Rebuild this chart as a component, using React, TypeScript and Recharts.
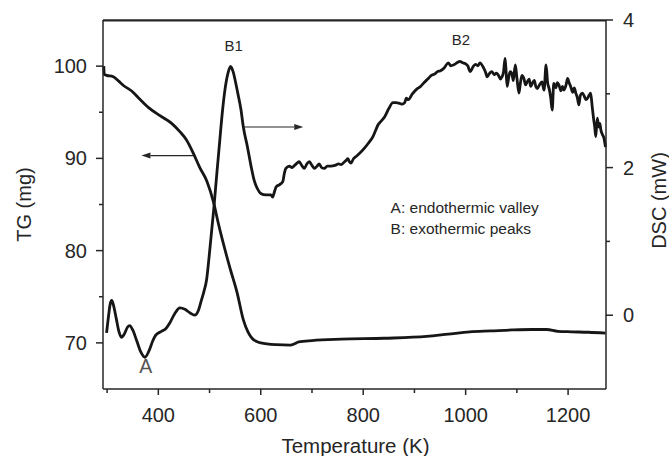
import React from 'react';
import { ComposedChart, Line, XAxis, YAxis, ReferenceLine, ReferenceDot, ReferenceArea } from 'recharts';

const tgTemps = [293.5, 294.5, 299, 312, 322, 332, 348, 364, 381, 404, 426, 442, 455, 468, 481, 495, 508, 517, 525, 533, 541, 554, 566, 575, 583, 592, 600, 630, 658, 666, 674, 700, 757, 841, 924, 966, 1008, 1050, 1091, 1130, 1158, 1180, 1207, 1240, 1273];
const tgValues = [100.0, 99.1, 99.0, 98.85, 98.4, 97.9, 97.3, 96.4, 95.5, 94.6, 93.8, 92.9, 92.0, 90.6, 89.0, 87.5, 85.2, 83.0, 81.2, 79.5, 77.9, 75.4, 72.5, 71.2, 70.5, 70.15, 70.0, 69.8, 69.75, 69.9, 70.1, 70.25, 70.4, 70.5, 70.7, 70.95, 71.2, 71.3, 71.4, 71.45, 71.45, 71.25, 71.2, 71.15, 71.05];

const dscTemps = [299, 303, 306, 309, 313, 318, 323, 328, 334, 340, 344, 350, 358, 366, 374, 382, 389, 395, 406, 415, 422, 432, 442, 452, 462, 471, 478, 484, 489, 494, 500, 508, 514, 520, 525, 530, 536, 541, 546, 551, 556, 561, 566, 574, 581, 587, 593, 600, 610, 620, 623, 627, 630, 637, 643, 646, 649, 656, 661, 666, 671, 675, 680, 685, 690, 695, 700, 705, 710, 714, 719, 724, 730, 737, 745, 752, 757, 762, 767, 770, 773, 776, 781, 786, 794, 802, 810, 819, 824, 829, 835, 842, 850, 858, 864, 871, 876, 881, 884, 888, 896, 904, 912, 920, 926, 933, 940, 945, 950, 958, 966, 971, 976, 983, 989, 994, 999, 1004, 1009, 1014, 1019, 1024, 1028, 1035, 1039, 1042, 1046, 1051, 1056, 1060, 1064, 1068, 1071, 1074, 1077, 1079, 1081, 1084, 1087, 1090, 1093, 1097, 1100, 1104, 1107, 1110, 1114, 1117, 1120, 1124, 1127, 1130, 1134, 1137, 1140, 1144, 1149, 1153, 1157, 1160, 1163, 1166, 1169, 1172, 1176, 1179, 1182, 1186, 1189, 1192, 1196, 1199, 1202, 1205, 1209, 1212, 1215, 1218, 1221, 1224, 1228, 1232, 1235, 1238, 1241, 1244, 1247, 1250, 1252, 1254, 1257, 1260, 1262, 1264, 1267, 1270, 1273];
const dscValues = [-0.24, 0.0, 0.15, 0.2, 0.12, -0.05, -0.22, -0.3, -0.25, -0.16, -0.14, -0.2, -0.35, -0.5, -0.57, -0.48, -0.35, -0.27, -0.22, -0.18, -0.11, 0.02, 0.1, 0.08, 0.03, 0.0, 0.06, 0.2, 0.32, 0.47, 0.85, 1.42, 1.9, 2.37, 2.75, 3.05, 3.28, 3.37, 3.3, 3.15, 2.98, 2.8, 2.55, 2.28, 2.02, 1.83, 1.72, 1.65, 1.63, 1.63, 1.6, 1.68, 1.74, 1.77, 1.81, 1.92, 1.99, 2.02, 2.0, 2.03, 2.06, 2.08, 2.03, 1.99, 2.05, 2.08, 2.03, 1.99, 2.02, 2.05, 2.0, 1.99, 2.02, 2.02, 2.03, 2.05, 2.04, 2.07, 2.1, 2.12, 2.08, 2.06, 2.12, 2.15, 2.2, 2.26, 2.33, 2.42, 2.5, 2.58, 2.63, 2.69, 2.8, 2.88, 2.88, 2.87, 2.86, 2.88, 2.94, 2.92, 3.0, 3.06, 3.1, 3.16, 3.2, 3.25, 3.27, 3.3, 3.31, 3.35, 3.42, 3.38, 3.39, 3.42, 3.44, 3.42, 3.41, 3.38, 3.3, 3.36, 3.4, 3.38, 3.42, 3.35, 3.29, 3.23, 3.27, 3.3, 3.26, 3.28, 3.25, 3.2, 3.23, 3.3, 3.48, 3.3, 3.1, 3.22, 3.3, 3.28, 3.18, 3.39, 3.22, 3.01, 3.15, 3.25, 3.2, 3.12, 3.16, 3.2, 3.1, 3.14, 3.18, 3.1, 3.07, 3.12, 3.16, 3.05, 3.39, 3.15, 3.07, 2.95, 2.78, 3.14, 3.08, 3.15, 3.12, 3.04, 3.1, 3.05, 3.12, 3.21, 3.15, 3.1, 3.02, 3.08, 3.01, 2.95, 2.85, 2.98, 3.01, 2.96, 2.92, 2.94, 2.98, 3.01, 2.83, 2.65, 2.55, 2.42, 2.67, 2.55, 2.6, 2.51, 2.45, 2.4, 2.28];

const xDomain = [292, 1274];
const tgDomain = [65, 105];
const dscDomain = [-1, 4];
const xTicks = [300, 400, 500, 600, 700, 800, 900, 1000, 1100, 1200];
const tgTicks = [70, 75, 80, 85, 90, 95, 100];
const dscTicks = [0, 1, 2, 3, 4];

const tgData = tgTemps.map((t, i) => ({ t, tg: tgValues[i] }));
const dscData = dscTemps.map((t, i) => ({ t, dsc: dscValues[i] }));

const FONT = '"Liberation Sans", Arial, sans-serif';
const AX = '#262626';
const TXT = '#262626';
const LINE = '#161616';

const XTick = (p: any) => {
  const { x, y, payload } = p;
  const major = payload.value % 200 === 0;
  return (
    <g>
      <line x1={x} y1={y} x2={x} y2={y + (major ? 6 : 4)} stroke={AX} strokeWidth={1.5} />
      {major && (
        <text x={x} y={y + 33} textAnchor="middle" fontSize={20} fontFamily={FONT} fill={TXT}>
          {payload.value}
        </text>
      )}
    </g>
  );
};

const LeftTick = (p: any) => {
  const { x, y, payload } = p;
  const major = payload.value % 10 === 0;
  return (
    <g>
      <line x1={x} y1={y} x2={x - (major ? 7 : 4)} y2={y} stroke={AX} strokeWidth={1.5} />
      {major && (
        <text x={x - 16} y={y + 7} textAnchor="end" fontSize={20} fontFamily={FONT} fill={TXT}>
          {payload.value}
        </text>
      )}
    </g>
  );
};

const RightTick = (p: any) => {
  const { x, y, payload } = p;
  const major = payload.value % 2 === 0;
  return (
    <g>
      <line x1={x} y1={y} x2={x + (major ? 7 : 4)} y2={y} stroke={AX} strokeWidth={1.5} />
      {major && (
        <text x={x + 17} y={y + 7} textAnchor="start" fontSize={20} fontFamily={FONT} fill={TXT}>
          {payload.value}
        </text>
      )}
    </g>
  );
};

const Arrow = (p: any) => {
  const { x1, y1, x2, y2 } = p;
  const dir = Math.sign(x2 - x1) || 1;
  const hl = 9;
  const hw = 3;
  return (
    <g>
      <line x1={x1} y1={y1} x2={x2 - dir * hl} y2={y2} stroke={AX} strokeWidth={1.2} />
      <polygon points={`${x2},${y2} ${x2 - dir * hl},${y2 - hw} ${x2 - dir * hl},${y2 + hw}`} fill={AX} />
    </g>
  );
};

const makeText = (label: string, size: number, anchor: string, color: string) => (p: any) => (
  <text x={p.cx} y={p.cy} textAnchor={anchor} dominantBaseline="central" fontSize={size} fontFamily={FONT} fill={color}>
    {label}
  </text>
);

const LeftTitle = (p: any) => {
  const vb = p.viewBox || {};
  const cx = vb.x + 23.5;
  const cy = vb.y + vb.height / 2;
  return (
    <text x={cx} y={cy} transform={`rotate(-90, ${cx}, ${cy})`} textAnchor="middle" dominantBaseline="central" fontSize={20} fontFamily={FONT} fill={TXT}>
      TG (mg)
    </text>
  );
};

const RightTitle = (p: any) => {
  const vb = p.viewBox || {};
  const cx = vb.x + 53;
  const cy = vb.y + vb.height / 2 - 4;
  return (
    <text x={cx} y={cy} transform={`rotate(-90, ${cx}, ${cy})`} textAnchor="middle" dominantBaseline="central" fontSize={20} fontFamily={FONT} fill={TXT}>
      DSC (mW)
    </text>
  );
};

const BottomTitle = (p: any) => {
  const vb = p.viewBox || {};
  const cx = vb.x + vb.width / 2 + 1;
  const cy = vb.y + 56;
  return (
    <text x={cx} y={cy} textAnchor="middle" dominantBaseline="central" fontSize={20.5} fontFamily={FONT} fill={TXT}>
      Temperature (K)
    </text>
  );
};

export default function App() {
  return (
    <div style={{ position: 'absolute', left: 0, top: 0, background: '#fff' }}>
      <ComposedChart width={669} height={456} margin={{ top: 0, right: 0, bottom: 0, left: 0 }}>
        <XAxis
          xAxisId="top"
          orientation="top"
          dataKey="t"
          type="number"
          domain={xDomain}
          height={20}
          tick={false}
          tickLine={false}
          axisLine={{ stroke: AX, strokeWidth: 1.5 }}
        />
        <XAxis
          dataKey="t"
          type="number"
          domain={xDomain}
          ticks={xTicks}
          interval={0}
          height={67}
          tickSize={0}
          tickMargin={0}
          tickLine={false}
          tick={<XTick />}
          axisLine={{ stroke: AX, strokeWidth: 1.5 }}
          label={<BottomTitle />}
        />
        <YAxis
          yAxisId="left"
          type="number"
          domain={tgDomain}
          ticks={tgTicks}
          interval={0}
          width={103}
          tickSize={0}
          tickMargin={0}
          tickLine={false}
          tick={<LeftTick />}
          axisLine={{ stroke: AX, strokeWidth: 1.5 }}
          label={<LeftTitle />}
        />
        <YAxis
          yAxisId="right"
          orientation="right"
          type="number"
          domain={dscDomain}
          ticks={dscTicks}
          interval={0}
          width={63}
          tickSize={0}
          tickMargin={0}
          tickLine={false}
          tick={<RightTick />}
          axisLine={{ stroke: AX, strokeWidth: 1.5 }}
          label={<RightTitle />}
        />
        <ReferenceArea yAxisId="left" x1={xDomain[0]} x2={xDomain[1]} y1={104.85} y2={tgDomain[1]} fill={AX} fillOpacity={1} stroke="none" ifOverflow="visible" />
        <Line data={tgData} dataKey="tg" yAxisId="left" type="monotone" stroke={LINE} strokeWidth={2.8} dot={false} isAnimationActive={false} />
        <Line data={dscData} dataKey="dsc" yAxisId="right" type="monotone" stroke={LINE} strokeWidth={2.8} dot={false} isAnimationActive={false} />
        <ReferenceLine yAxisId="left" segment={[{ x: 468, y: 90.3 }, { x: 367, y: 90.3 }]} shape={Arrow} ifOverflow="visible" />
        <ReferenceLine yAxisId="right" segment={[{ x: 566, y: 2.55 }, { x: 683, y: 2.55 }]} shape={Arrow} ifOverflow="visible" />
        <ReferenceDot yAxisId="right" x={547} y={3.66} r={0} ifOverflow="visible" shape={makeText('B1', 15, 'middle', TXT)} />
        <ReferenceDot yAxisId="right" x={991} y={3.74} r={0} ifOverflow="visible" shape={makeText('B2', 15, 'middle', TXT)} />
        <ReferenceDot yAxisId="right" x={375.7} y={-0.69} r={0} ifOverflow="visible" shape={makeText('A', 19.5, 'middle', '#555')} />
        <ReferenceDot yAxisId="right" x={853.5} y={1.464} r={0} ifOverflow="visible" shape={makeText('A: endothermic valley', 15.5, 'start', TXT)} />
        <ReferenceDot yAxisId="right" x={853.5} y={1.176} r={0} ifOverflow="visible" shape={makeText('B: exothermic peaks', 15.5, 'start', TXT)} />
      </ComposedChart>
    </div>
  );
}
